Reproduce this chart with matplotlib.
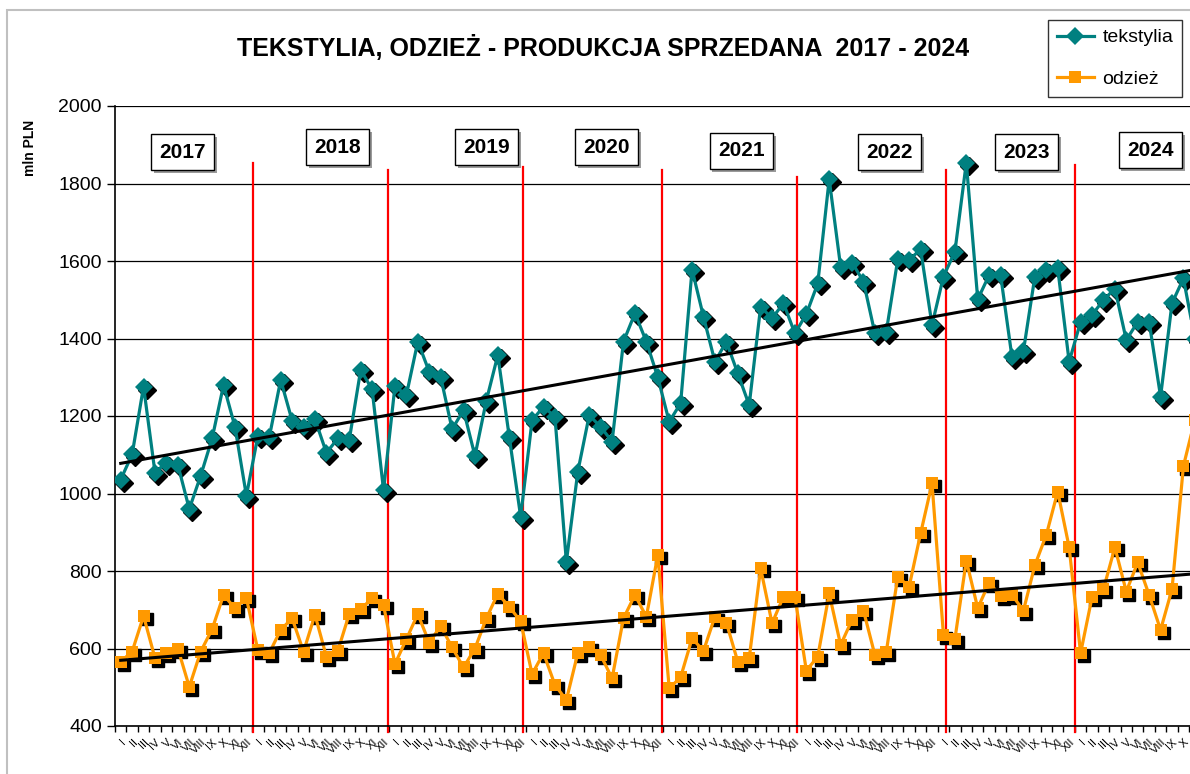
import numpy as np
import matplotlib
matplotlib.use("Agg")
import matplotlib.pyplot as plt
import matplotlib.patheffects as pe
from matplotlib.transforms import ScaledTranslation
from matplotlib.patches import Rectangle

plt.rcParams['font.family'] = ['Liberation Sans', 'DejaVu Sans']

# monthly values, mln PLN, Jan 2017 - Nov 2024
tekstylia = [
    1036, 1101, 1276, 1054, 1080, 1074, 960, 1046, 1142, 1280, 1172, 994,
    1148, 1145, 1293, 1188, 1171, 1192, 1105, 1142, 1138, 1319, 1269, 1009,
    1277, 1254, 1392, 1314, 1301, 1166, 1215, 1097, 1240, 1357, 1147, 940,
    1189, 1224, 1198, 824, 1056, 1202, 1172, 1134, 1392, 1465, 1392, 1300,
    1185, 1233, 1578, 1456, 1340, 1392, 1310, 1228, 1482, 1452, 1491, 1413,
    1463, 1542, 1811, 1585, 1596, 1547, 1413, 1418, 1604, 1603, 1630, 1435,
    1560, 1624, 1854, 1501, 1564, 1564, 1351, 1368, 1560, 1577, 1581, 1340,
    1443, 1461, 1499, 1529, 1396, 1443, 1443, 1250, 1491, 1555, 1400,
]
odziez = [
    566, 592, 684, 575, 588, 600, 501, 592, 650, 738, 704, 730,
    596, 588, 648, 678, 592, 687, 579, 594, 689, 701, 730, 712,
    560, 624, 689, 615, 658, 603, 551, 600, 678, 741, 708, 670,
    534, 588, 506, 467, 588, 605, 583, 523, 678, 738, 682, 841,
    497, 526, 626, 594, 682, 667, 566, 575, 807, 665, 734, 734,
    543, 579, 742, 609, 674, 698, 583, 592, 785, 760, 897, 1026,
    635, 624, 827, 704, 770, 735, 738, 698, 815, 893, 1005, 861,
    588, 732, 753, 861, 747, 822, 738, 648, 753, 1071, 1190,
]
months = ['I', 'II', 'III', 'IV', 'V', 'VI', 'VII', 'VIII', 'IX', 'X', 'XI', 'XII']
years = ['2017', '2018', '2019', '2020', '2021', '2022', '2023', '2024']

# layout of the year boxes and separators (category units / axis units)
year_box_x = [5.4, 19.0, 32.0, 42.5, 54.3, 67.3, 79.3, 90.1]
year_box_y = [1881, 1894, 1894, 1894, 1884, 1881, 1881, 1886]
sep_x = [11.6, 23.4, 35.2, 47.4, 59.2, 72.2, 83.5]
sep_top = [1853, 1835, 1843, 1835, 1817, 1835, 1848]

teal = '#008080'
orange = '#FF9900'

fig = plt.figure(figsize=(11.9, 7.74), dpi=100)
fig.patches.append(Rectangle((7 / 1190, -0.1), 1.2, 1 - 10 / 774 + 0.1,
                             transform=fig.transFigure, fill=False,
                             edgecolor='#c0c0c0', lw=1.5))

ax = fig.add_axes([115 / 1190, 48 / 774, 1097 / 1190, 620 / 774])

x = np.arange(len(tekstylia))
shadow = ax.transData + ScaledTranslation(3 / 100, -3 / 100, fig.dpi_scale_trans)

# gridlines
for v in range(400, 2001, 200):
    ax.axhline(v, color='black', lw=0.9, zorder=1)

# year separators
for sx, st in zip(sep_x, sep_top):
    ax.plot([sx, sx], [st, 384], color='red', lw=1.6, zorder=2, clip_on=False)

# series with shadowed markers
ax.plot(x, tekstylia, ls='none', marker='D', ms=9.5, color='black',
        transform=shadow, zorder=3)
ax.plot(x, tekstylia, color=teal, lw=2.3, marker='D', ms=9.5,
        markeredgewidth=0, label='tekstylia', zorder=4)
ax.plot(x, odziez, ls='none', marker='s', ms=8, color='black',
        transform=shadow, zorder=3)
ax.plot(x, odziez, color=orange, lw=2.3, marker='s', ms=8,
        markeredgewidth=0, label='odzież', zorder=4)

# linear trend lines
for series in (tekstylia, odziez):
    k, b = np.polyfit(x, series, 1)
    ax.plot(x, k * x + b, color='black', lw=2.2, zorder=6)

for yx, yy, yl in zip(year_box_x, year_box_y, years):
    t = ax.text(yx, yy, yl, ha='center', va='center', fontsize=15,
                fontweight='bold', zorder=8,
                bbox=dict(boxstyle='square,pad=0.4', fc='white', ec='black', lw=1))
    t.get_bbox_patch().set_path_effects([
        pe.SimplePatchShadow(offset=(2, -2), shadow_rgbFace='#9a9a9a', alpha=1),
        pe.Normal()])

ax.set_xlim(-0.5, 95.5)
ax.set_ylim(400, 2000)
ax.set_yticks(range(400, 2001, 200))
ax.tick_params(axis='y', labelsize=14, length=6, width=1, direction='out')

ax.set_xticks(x[:-1])
ax.set_xticklabels([months[i % 12] for i in x[:-1]], rotation=45, ha='right',
                   va='top', rotation_mode='anchor', fontsize=8)
ax.set_xticks(np.arange(-0.5, 96, 1), minor=True)
ax.tick_params(axis='x', which='major', length=0, pad=8)
ax.tick_params(axis='x', which='minor', length=4, width=1, direction='out')

for s in ('top', 'right'):
    ax.spines[s].set_visible(False)
ax.spines['left'].set_linewidth(1.2)
ax.spines['bottom'].set_linewidth(1.2)

fig.text(603 / 1190, 1 - 48 / 774, 'TEKSTYLIA, ODZIEŻ - PRODUKCJA SPRZEDANA  2017 - 2024',
         ha='center', va='center', fontsize=18, fontweight='bold')
fig.text(30 / 1190, 1 - 148 / 774, 'mln PLN', rotation=90, ha='center',
         va='center', fontsize=10, fontweight='bold')

leg = fig.legend(loc='upper left', bbox_to_anchor=(1048 / 1190, 1 - 20 / 774),
                 bbox_transform=fig.transFigure, fontsize=14, frameon=True,
                 fancybox=False, labelspacing=1.25, handlelength=1.9,
                 borderpad=0.45, handletextpad=0.45, borderaxespad=0)
leg.get_frame().set_edgecolor('black')
leg.get_frame().set_linewidth(1)

fig.savefig('out.png', dpi=100)
